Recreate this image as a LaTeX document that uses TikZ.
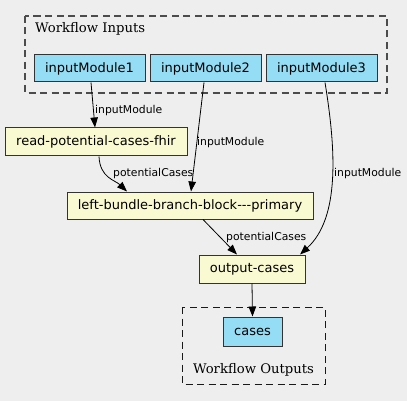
\documentclass[tikz,border=0pt]{standalone}
\usepackage{fontspec}
\setmainfont{DejaVu Serif}
\newfontfamily\nodefont{DejaVu Sans}
\usetikzlibrary{arrows.meta}
\definecolor{bg}{HTML}{EEEEEE}
\definecolor{inblue}{HTML}{94DDF4}
\definecolor{stepyellow}{HTML}{FAFAD2}
\tikzset{
  box/.style={draw=black!80, line width=1pt, inner sep=0pt, font=\nodefont\fontsize{13}{15}\selectfont},
  inbox/.style={box, fill=inblue},
  stepbox/.style={box, fill=stepyellow},
  cluster/.style={draw=black!70, line width=1.1pt, dash pattern=on 7pt off 4.5pt},
  edge/.style={line width=0.8pt, -{Triangle[length=10pt,width=7.5pt]}},
  elabel/.style={anchor=west, inner sep=0pt, font=\nodefont\fontsize{10.8}{12}\selectfont},
  clabel/.style={inner sep=0pt, font=\fontsize{13.2}{15}\selectfont},
}
\begin{document}
\begin{tikzpicture}[x=1pt,y=-1pt]
\fill[bg] (0,0) rectangle (407,401);
\useasboundingbox (0,0) rectangle (407,401);
% clusters
\draw[cluster] (25,16) rectangle (387,93);
\node[clabel, anchor=west] (inlab) at (35,29) {Workflow Inputs};
\draw[cluster, draw=black!90, line width=1pt] (182,307) rectangle (325,384);
\node[clabel] (outlab) at (253.5,370) {Workflow Outputs};
% nodes
\node[inbox, minimum width=111pt, minimum height=27pt] (im1) at (89.5,68.5) {inputModule1};
\node[inbox, minimum width=111pt, minimum height=27pt] (im2) at (205.5,68.5) {inputModule2};
\node[inbox, minimum width=111pt, minimum height=27pt] (im3) at (321.5,68.5) {inputModule3};
\node[stepbox, minimum width=182pt, minimum height=28pt] (read) at (96,142) {read-potential-cases-fhir};
\node[stepbox, minimum width=246pt, minimum height=27pt] (left) at (190,205.5) {left-bundle-branch-block---primary};
\node[stepbox, minimum width=106pt, minimum height=28pt] (out) at (252,269) {output-cases};
\node[inbox, minimum width=59pt, minimum height=29pt] (cases) at (252.5,331.5) {cases};
% edges
\draw[edge] ([xshift=1.5pt]im1.south) -- ([xshift=-1pt]read.north);
\node[elabel] (l1) at (95,111) {inputModule};
\draw[edge] ([xshift=-1.5pt]im2.south) -- ([xshift=1pt]left.north);
\node[elabel] (l2) at (197,143) {inputModule};
\draw[edge] ([xshift=3.5pt]im3.south) .. controls (336,150) and (340,218) .. ([xshift=48pt]out.north);
\node[elabel] (l3) at (334,174) {inputModule};
\draw[edge] ([xshift=3pt]read.south) .. controls (100,178) and (115,180) .. ([xshift=-63pt]left.north);
\node[elabel] (l4) at (113,174) {potentialCases};
\draw[edge] ([xshift=13pt]left.south) -- ([xshift=-15pt]out.north);
\node[elabel] (l5) at (226,238) {potentialCases};
\draw[edge] (out.south) -- (cases.north);
\end{tikzpicture}
\end{document}
